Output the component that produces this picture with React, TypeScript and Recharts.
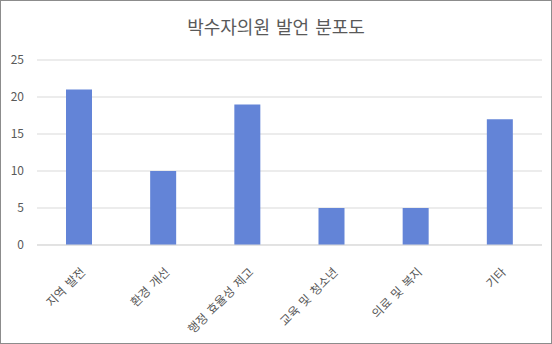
import { BarChart, Bar, XAxis, YAxis, CartesianGrid } from 'recharts';

const categories = ['지역 발전', '환경 개선', '행정 효율성 제고', '교육 및 청소년', '의료 및 복지', '기타'];
const counts = [21, 10, 19, 5, 5, 17];
const yTicks = [0, 5, 10, 15, 20, 25];
const chartTitle = '박수자의원 발언 분포도';

const data = categories.map((name, i) => ({ name, count: counts[i] }));

const FONT = '"Noto Sans CJK KR", "Noto Sans", sans-serif';

function AngledTick(props: any) {
    const { x, y, payload } = props;
    const tx = x + 7;
    const ty = y + 20;
    return (
        <text
            x={tx}
            y={ty}
            transform={`rotate(-45, ${tx}, ${ty})`}
            textAnchor="end"
            fill="#595959"
            fontSize={12}
            fontFamily={FONT}
            style={{ wordSpacing: 2 }}
        >
            {payload.value}
        </text>
    );
}

export default function App() {
    return (
        <div
            style={{
                position: 'absolute',
                left: 0,
                top: 0,
                width: 552,
                height: 344,
                boxSizing: 'border-box',
                border: '1px solid #8c8c8c',
                background: '#fff',
                fontFamily: FONT,
            }}
        >
            <div
                style={{
                    position: 'absolute',
                    top: 12,
                    left: 0,
                    width: 550,
                    textAlign: 'center',
                    fontSize: 18,
                    color: '#595959',
                    wordSpacing: 2,
                }}
            >
                {chartTitle}
            </div>
            <BarChart
                width={550}
                height={342}
                data={data}
                margin={{ top: 59, right: 9, bottom: 8, left: 0 }}
                barSize={26}
            >
                <CartesianGrid vertical={false} stroke="#d9d9d9" />
                <XAxis
                    dataKey="name"
                    interval={0}
                    height={90}
                    tick={<AngledTick />}
                    tickLine={false}
                    axisLine={{ stroke: '#d9d9d9' }}
                />
                <YAxis
                    width={36}
                    domain={[0, 25]}
                    ticks={yTicks}
                    tickLine={false}
                    axisLine={false}
                    tickSize={0}
                    tickMargin={13}
                    tick={{ fill: '#595959', fontSize: 12, fontFamily: FONT }}
                />
                <Bar dataKey="count" fill="#6384d7" isAnimationActive={false} />
            </BarChart>
        </div>
    );
}
